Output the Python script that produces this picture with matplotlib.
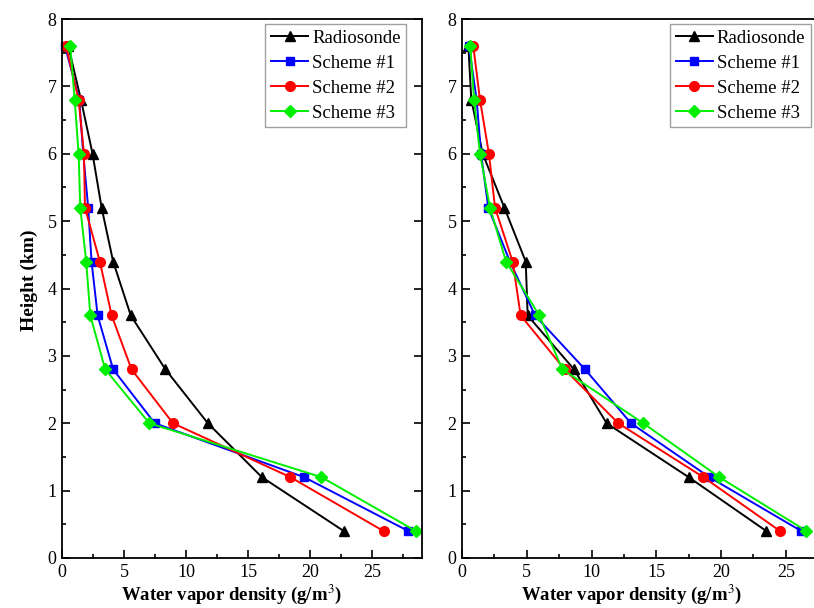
import matplotlib
matplotlib.use('Agg')
import matplotlib.pyplot as plt
from matplotlib.ticker import MultipleLocator

plt.rcParams['font.family'] = ['Liberation Serif', 'DejaVu Serif']
plt.rcParams['mathtext.fontset'] = 'stix'

# heights of the retrieval levels (km)
height = [0.4, 1.2, 2.0, 2.8, 3.6, 4.4, 5.2, 6.0, 6.8, 7.6]

# case a (left)
radio_a = [22.7, 16.1, 11.75, 8.33, 5.54, 4.12, 3.19, 2.46, 1.53, 0.5]
s1_a = [27.9, 19.5, 7.47, 4.12, 2.87, 2.38, 2.11, 1.71, 1.39, 0.24]
s2_a = [25.9, 18.4, 8.94, 5.6, 4.0, 3.05, 1.85, 1.77, 1.34, 0.32]
s3_a = [28.5, 20.9, 7.04, 3.48, 2.28, 1.95, 1.47, 1.34, 1.02, 0.67]

# case b (right)
radio_b = [23.5, 17.5, 11.17, 8.65, 5.07, 4.92, 3.27, 1.6, 0.72, 0.49]
s1_b = [26.2, 19.1, 13.05, 9.5, 5.64, 3.7, 2.03, 1.47, 1.13, 0.54]
s2_b = [24.56, 18.64, 12.07, 7.93, 4.53, 3.91, 2.55, 2.08, 1.39, 0.87]
s3_b = [26.6, 19.87, 14.0, 7.75, 5.97, 3.4, 2.16, 1.39, 0.93, 0.64]

names = ['Radiosonde', 'Scheme #1', 'Scheme #2', 'Scheme #3']
colors = ['black', 'blue', 'red', '#00ee00']
markers = ['^', 's', 'o', 'D']
msizes = [7, 6, 7, 6]

fig = plt.figure(figsize=(8.14, 6.08), dpi=100)
ax1 = fig.add_axes([62/814, 50/608, 360/814, 539/608])
ax2 = fig.add_axes([462/814, 50/608, 362.6/814, 539/608])


def draw(ax, series, xmax, legx, labx):
    for vals, name, c, m, ms in zip(series, names, colors, markers, msizes):
        ax.plot(vals, height, color=c, marker=m, markersize=ms, lw=1.4,
                label=name, clip_on=False)
    ax.set_xlim(0, xmax)
    ax.set_ylim(0, 8)
    ax.xaxis.set_major_locator(MultipleLocator(5))
    ax.xaxis.set_minor_locator(MultipleLocator(2.5))
    ax.yaxis.set_major_locator(MultipleLocator(1))
    ax.yaxis.set_minor_locator(MultipleLocator(0.5))
    ax.tick_params(which='both', direction='in', labelsize=13, width=1.2)
    ax.tick_params(which='major', length=6, right=True, pad=4)
    ax.tick_params(which='minor', length=3)
    for sp in ax.spines.values():
        sp.set_linewidth(1.3)
    ax.set_xlabel('Water vapor density (g/m$^3$)', fontsize=13.5,
                  fontweight='bold', labelpad=2)
    ax.xaxis.set_label_coords(labx, -0.045, transform=ax.transAxes)
    ax.xaxis.label.set_verticalalignment('top')
    leg = ax.legend(loc='upper right', bbox_to_anchor=(legx, 0.991),
                    fontsize=13.5, frameon=True, fancybox=False,
                    edgecolor='#888888', borderaxespad=0, handlelength=2.0,
                    handletextpad=0.2, borderpad=0.3, labelspacing=0.42)
    leg.get_frame().set_linewidth(1.0)


draw(ax1, [radio_a, s1_a, s2_a, s3_a], 29, 0.956, 0.47)
draw(ax2, [radio_b, s1_b, s2_b, s3_b], 28, 0.9625, 0.466)
ax1.set_ylabel('Height (km)', fontsize=14, fontweight='bold')
ax1.yaxis.set_label_coords(-0.067, 0.516)

fig.savefig('out.png', dpi=100)
